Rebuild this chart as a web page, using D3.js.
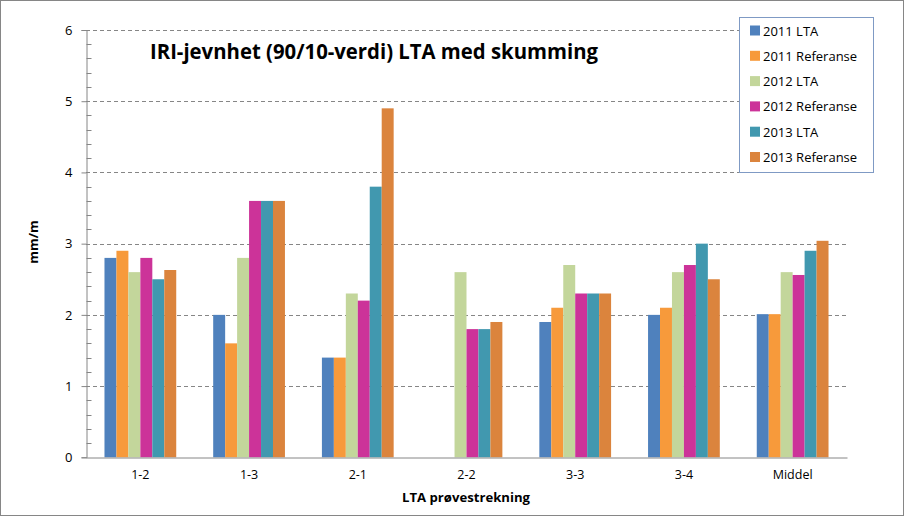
<!DOCTYPE html>
<html><head><meta charset="utf-8">
<script src="https://cdn.jsdelivr.net/npm/d3@7"></script>
<style>body{margin:0;background:#fff}svg{display:block}</style>
</head><body>
<svg id="c" width="904" height="516"></svg>
<script>
const categories = ["1-2","1-3","2-1","2-2","3-3","3-4","Middel"];
const seriesNames = ["2011 LTA","2011 Referanse","2012 LTA","2012 Referanse","2013 LTA","2013 Referanse"];
const s2011LTA = [2.8, 2.0, 1.4, 0, 1.9, 2.0, 2.01];
const s2011Ref = [2.9, 1.6, 1.4, 0, 2.1, 2.1, 2.01];
const s2012LTA = [2.6, 2.8, 2.3, 2.6, 2.7, 2.6, 2.6];
const s2012Ref = [2.8, 3.6, 2.2, 1.8, 2.3, 2.7, 2.56];
const s2013LTA = [2.5, 3.6, 3.8, 1.8, 2.3, 3.0, 2.9];
const s2013Ref = [2.63, 3.6, 4.9, 1.9, 2.3, 2.5, 3.04];
const yTicks = [0,1,2,3,4,5,6];
const colors = ["#4f81bd","#f79a3b","#c3d69b","#cc3399","#4198af","#db843d"];
const seriesValues = [s2011LTA,s2011Ref,s2012LTA,s2012Ref,s2013LTA,s2013Ref];

const svg = d3.select("#c");
const font = "'Open Sans', 'Liberation Sans', Arial, sans-serif";
const L = 86, R = 847, T = 30, B = 457.3;

svg.append("rect").attr("x",0.5).attr("y",0.5).attr("width",903).attr("height",515)
  .attr("fill","#fff").attr("stroke","#868686");

const y = d3.scaleLinear().domain([0,6]).range([B,T]);
const x0 = d3.scaleBand().domain(categories).range([L,R]);
const x1 = d3.scaleBand().domain(seriesNames)
  .range([x0.bandwidth()*0.17, x0.bandwidth()*0.83]).paddingOuter(0).paddingInner(0);

// gridlines
svg.append("g").selectAll("line").data(yTicks.filter(d=>d>0)).join("line")
  .attr("x1",L).attr("x2",R).attr("y1",d=>Math.round(y(d))+0.5).attr("y2",d=>Math.round(y(d))+0.5)
  .attr("stroke","#868686").attr("stroke-dasharray","4,3");

// bars
const g = svg.append("g");
categories.forEach((c,ci)=>{
  seriesNames.forEach((s,si)=>{
    const v = seriesValues[si][ci];
    if (v<=0) return;
    g.append("rect").attr("x",x0(c)+x1(s)).attr("width",x1.bandwidth())
      .attr("y",y(v)).attr("height",B-y(v)).attr("fill",colors[si]);
  });
});

// y axis
const yAxis = d3.axisLeft(y).tickValues(yTicks).tickSize(5).tickPadding(9).tickFormat(d3.format("d"));
const ya = svg.append("g").attr("transform",`translate(${L+0.5},0)`).call(yAxis);
ya.select(".domain").attr("stroke","#868686");
ya.selectAll(".tick line").attr("stroke","#868686");
ya.selectAll("text").attr("font-family",font).attr("font-size",13).attr("fill","#000");
// minor ticks
const minor = d3.range(0,6.001,0.2).filter(v=>Math.abs(v-Math.round(v))>0.01);
svg.append("g").selectAll("line").data(minor).join("line")
  .attr("x1",L+0.5).attr("x2",L+5.5).attr("y1",d=>Math.round(y(d))+0.5).attr("y2",d=>Math.round(y(d))+0.5)
  .attr("stroke","#868686");

// x axis
const xAxis = d3.axisBottom(x0).tickSize(0).tickPadding(13);
const xa = svg.append("g").attr("transform",`translate(0,${Math.round(B)+0.5})`).call(xAxis);
xa.select(".domain").attr("stroke","#868686");
xa.selectAll("text").attr("font-family",font).attr("font-size",12.5).attr("fill","#000");

// title
svg.append("text").attr("x",150).attr("y",59).attr("font-family",font)
  .attr("font-weight","bold").attr("font-size",21).attr("fill","#000")
  .attr("textLength",448).attr("lengthAdjust","spacingAndGlyphs")
  .text("IRI-jevnhet (90/10-verdi) LTA med skumming");

// axis titles
svg.append("text").attr("transform","translate(38,242) rotate(-90)").attr("text-anchor","middle")
  .attr("font-family",font).attr("font-weight","bold").attr("font-size",13).text("mm/m");
svg.append("text").attr("x",466).attr("y",502).attr("text-anchor","middle")
  .attr("font-family",font).attr("font-weight","bold").attr("font-size",13)
  .attr("textLength",128).attr("lengthAdjust","spacingAndGlyphs").text("LTA prøvestrekning");

// legend
const lg = svg.append("g");
lg.append("rect").attr("x",739.5).attr("y",17.5).attr("width",134).attr("height",155)
  .attr("fill","#fff").attr("stroke","#7f9ac4");
seriesNames.forEach((s,i)=>{
  const cy = 30.5 + i*25.3;
  lg.append("rect").attr("x",750).attr("y",cy-5).attr("width",10).attr("height",10).attr("fill",colors[i]);
  lg.append("text").attr("x",763).attr("y",cy+5).attr("font-family",font).attr("font-size",13)
    .attr("fill","#000").text(s);
});
</script>
</body></html>
